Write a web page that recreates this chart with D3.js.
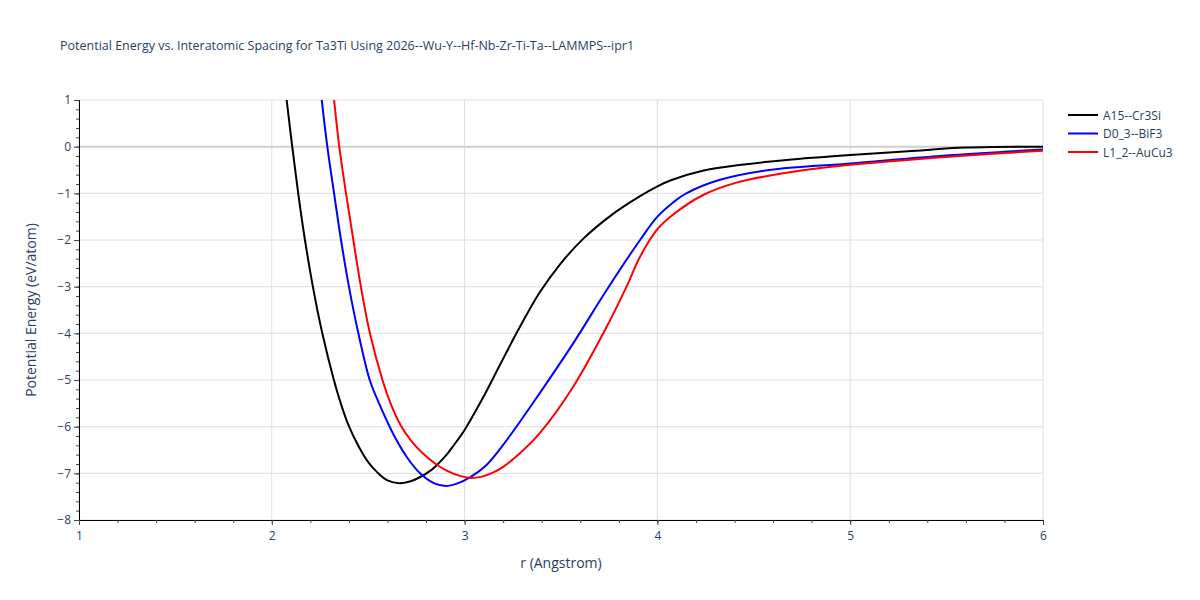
<!DOCTYPE html>
<html>
<head>
<meta charset="utf-8">
<script src="https://cdn.jsdelivr.net/npm/d3@7"></script>
<style>
  body { margin: 0; background: #fff; }
  text { font-family: "Open Sans", verdana, arial, sans-serif; fill: #2a3f5f; }
</style>
</head>
<body>
<svg id="chart" width="1200" height="600"></svg>
<script>
var seriesNames = ['A15--Cr3Si', 'D0_3--BiF3', 'L1_2--AuCu3'];
var seriesColors = ['#000000', '#0000ff', '#ff0000'];

// r (Angstrom) and energy (eV/atom)
var a15R = [2.077, 2.106, 2.137, 2.172, 2.213, 2.262, 2.322, 2.36, 2.395, 2.45, 2.50, 2.55, 2.6, 2.661, 2.72, 2.76, 2.83, 2.907, 2.94, 3.0, 3.09, 3.183, 3.287, 3.39, 3.495, 3.616, 3.77, 3.91, 4.0, 4.07, 4.24, 4.45, 4.67, 5.0, 5.3, 5.6, 6.0];
var a15E = [1.0, 0, -1, -2, -3, -4, -5, -5.53, -5.94, -6.42, -6.76, -6.99, -7.15, -7.21, -7.17, -7.1, -6.92, -6.6, -6.42, -6.07, -5.42, -4.68, -3.86, -3.12, -2.52, -1.97, -1.44, -1.06, -0.85, -0.72, -0.51, -0.38, -0.285, -0.18, -0.1, -0.02, 0.0];

var d03R = [2.259, 2.288, 2.323, 2.359, 2.40, 2.449, 2.508, 2.553, 2.603, 2.643, 2.70, 2.769, 2.84, 2.903, 2.96, 3.03, 3.114, 3.22, 3.39, 3.564, 3.737, 3.91, 4.0, 4.08, 4.15, 4.325, 4.58, 5.0, 5.53, 6.0];
var d03E = [1.0, 0, -1, -2, -3, -4, -5, -5.47, -5.93, -6.26, -6.65, -7.0, -7.21, -7.27, -7.22, -7.08, -6.82, -6.28, -5.28, -4.21, -3.07, -2.0, -1.5, -1.2, -1.0, -0.71, -0.5, -0.36, -0.18, -0.06];

var l12R = [2.323, 2.35, 2.385, 2.423, 2.462, 2.509, 2.574, 2.616, 2.667, 2.72, 2.78, 2.85, 2.907, 2.98, 3.03, 3.09, 3.149, 3.2, 3.287, 3.39, 3.564, 3.737, 3.84, 3.91, 3.996, 4.08, 4.24, 4.41, 4.67, 5.0, 5.53, 6.0];
var l12E = [1.0, 0, -1, -2, -3, -4, -5, -5.5, -5.96, -6.29, -6.56, -6.8, -6.94, -7.06, -7.1, -7.07, -6.98, -6.86, -6.57, -6.14, -5.14, -3.86, -3.0, -2.36, -1.79, -1.46, -1.03, -0.77, -0.56, -0.39, -0.21, -0.085];

var xTicks = [1, 2, 3, 4, 5, 6];
var yTicks = [1, 0, -1, -2, -3, -4, -5, -6, -7, -8];

var titleText = 'Potential Energy vs. Interatomic Spacing for Ta3Ti Using 2026--Wu-Y--Hf-Nb-Zr-Ti-Ta--LAMMPS--ipr1';

var margin = { left: 79, top: 100, right: 157, bottom: 80 };
var width = 1200 - margin.left - margin.right;
var height = 600 - margin.top - margin.bottom;

var svg = d3.select('#chart');

var xScale = d3.scaleLinear().domain([1, 6]).range([0, width]);
var yScale = d3.scaleLinear().domain([-8, 1]).range([height, 0]);

var series = [
    { name: seriesNames[0], color: seriesColors[0], r: a15R, e: a15E },
    { name: seriesNames[1], color: seriesColors[1], r: d03R, e: d03E },
    { name: seriesNames[2], color: seriesColors[2], r: l12R, e: l12E }
];

svg.append('defs').append('clipPath').attr('id', 'plotClip')
    .append('rect').attr('width', width).attr('height', height);

var g = svg.append('g').attr('transform', 'translate(' + margin.left + ',' + margin.top + ')');

// grid
g.append('g').selectAll('line').data(xTicks).join('line')
    .attr('x1', function(d) { return xScale(d); })
    .attr('x2', function(d) { return xScale(d); })
    .attr('y1', 0).attr('y2', height)
    .style('stroke', '#dedede').style('stroke-width', 1);

g.append('g').selectAll('line').data(yTicks.filter(function(d) { return d !== 0; })).join('line')
    .attr('y1', function(d) { return yScale(d); })
    .attr('y2', function(d) { return yScale(d); })
    .attr('x1', 0).attr('x2', width)
    .style('stroke', '#dedede').style('stroke-width', 1);

// zero line
g.append('line')
    .attr('x1', 0).attr('x2', width)
    .attr('y1', yScale(0)).attr('y2', yScale(0))
    .style('stroke', '#d0d0d0').style('stroke-width', 2);

// curves
var lineGen = d3.line()
    .x(function(d) { return xScale(d[0]); })
    .y(function(d) { return yScale(d[1]); })
    .curve(d3.curveCatmullRom.alpha(0.5));

g.append('g').attr('clip-path', 'url(#plotClip)')
    .selectAll('path').data(series).join('path')
    .attr('d', function(s) { return lineGen(d3.zip(s.r, s.e)); })
    .style('fill', 'none')
    .style('stroke', function(s) { return s.color; })
    .style('stroke-width', 2);

// axes
var xMinor = d3.range(1, 6.001, 0.2);
var yMinor = d3.range(-8, 1.001, 0.2);

var xAxis = g.append('g').attr('transform', 'translate(0,' + height + ')')
    .call(d3.axisBottom(xScale).tickValues(xTicks).tickSize(5).tickPadding(6).tickFormat(d3.format('d')));
var yAxis = g.append('g')
    .call(d3.axisLeft(yScale).tickValues(yTicks).tickSize(5).tickPadding(3)
        .tickFormat(function(d) { return d < 0 ? '\u2212' + Math.abs(d) : d; }));

g.append('g').attr('transform', 'translate(0,' + height + ')')
    .call(d3.axisBottom(xScale).tickValues(xMinor).tickSize(3).tickFormat(''))
    .call(function(a) { a.select('.domain').remove(); });
g.append('g')
    .call(d3.axisLeft(yScale).tickValues(yMinor).tickSize(3).tickFormat(''))
    .call(function(a) { a.select('.domain').remove(); });

[xAxis, yAxis].forEach(function(a) {
    a.select('.domain').style('stroke', '#000').style('stroke-width', 1);
    a.selectAll('text').style('font-size', '12px').style('fill', '#2a3f5f')
        .style('font-family', '"Open Sans", verdana, arial, sans-serif');
});
g.selectAll('.tick line').style('stroke', '#444');

// titles
svg.append('text')
    .attr('x', 60).attr('y', 50)
    .style('font-size', '12.5px')
    .text(titleText);

svg.append('text')
    .attr('x', margin.left + width / 2).attr('y', 568)
    .attr('text-anchor', 'middle')
    .style('font-size', '14px')
    .text('r (Angstrom)');

svg.append('text')
    .attr('transform', 'translate(36,' + (margin.top + height / 2) + ') rotate(-90)')
    .attr('text-anchor', 'middle')
    .style('font-size', '14px')
    .text('Potential Energy (eV/atom)');

// legend
var legend = svg.append('g').attr('transform', 'translate(1068,115)')
    .selectAll('g').data(series).join('g')
    .attr('transform', function(d, i) { return 'translate(0,' + i * 18.5 + ')'; });

legend.append('line')
    .attr('x1', 0).attr('x2', 30)
    .style('stroke', function(d) { return d.color; })
    .style('stroke-width', 2);

legend.append('text')
    .attr('x', 35).attr('y', 4.5)
    .style('font-size', '12px')
    .text(function(d) { return d.name; });
</script>
</body>
</html>
